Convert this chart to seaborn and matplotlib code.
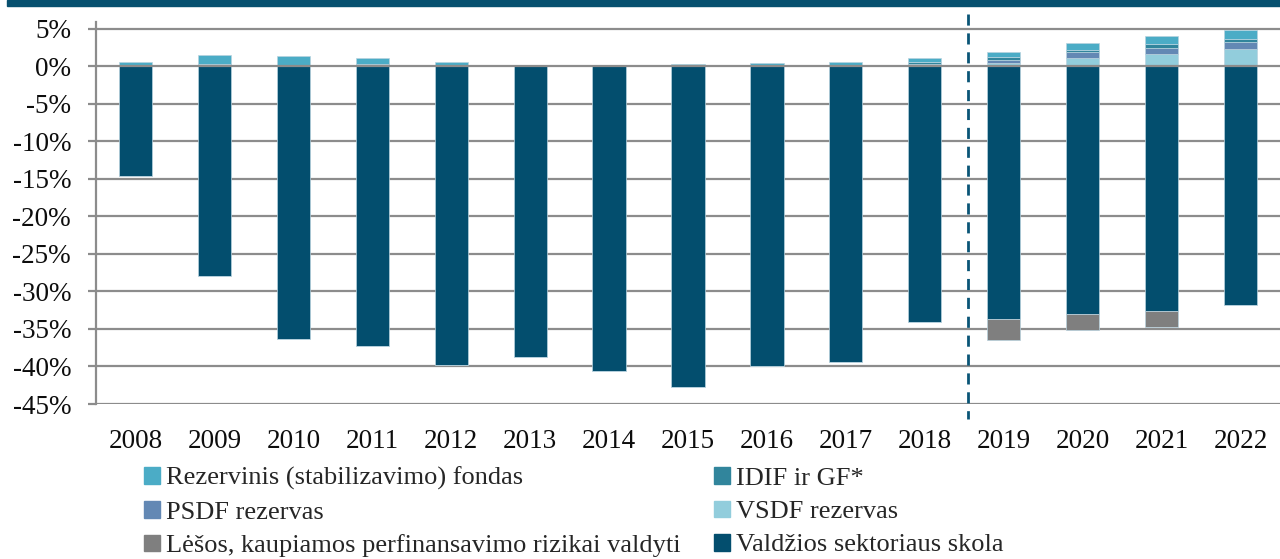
import matplotlib
matplotlib.use("Agg")
import matplotlib.pyplot as plt
import matplotlib.transforms as mtransforms
from matplotlib.patches import Rectangle, Patch
import numpy as np
import pandas as pd
import seaborn as sns

years = ["2008", "2009", "2010", "2011", "2012", "2013", "2014", "2015",
         "2016", "2017", "2018", "2019", "2020", "2021", "2022"]
vsdf = [0.0, 0.0, 0.0, 0.0, 0.0, 0.0, 0.0, 0.0, 0.0, 0.0, 0.1, 0.4, 1.1, 1.7, 2.3]
psdf = [0.0, 0.3, 0.2, 0.3, 0.1, 0.2, 0.2, 0.0, 0.0, 0.0, 0.2, 0.5, 0.8, 0.8, 0.9]
idif = [0.0, 0.0, 0.0, 0.0, 0.0, 0.0, 0.0, 0.0, 0.0, 0.0, 0.3, 0.3, 0.3, 0.5, 0.5]
rez = [0.6, 1.2, 1.25, 0.8, 0.55, 0.0, 0.0, 0.33, 0.45, 0.6, 0.5, 0.7, 0.9, 1.0, 1.2]
skola = [-14.6, -27.9, -36.3, -37.3, -39.8, -38.8, -40.6, -42.8, -39.9, -39.4,
         -34.1, -33.7, -33.0, -32.6, -31.8]
lesos = [0.0, 0.0, 0.0, 0.0, 0.0, 0.0, 0.0, 0.0, 0.0, 0.0, 0.0, -2.8, -2.1, -2.2, 0.0]

labels = ["Rezervinis (stabilizavimo) fondas", "IDIF ir GF*", "PSDF rezervas",
          "VSDF rezervas", "Lėšos, kaupiamos perfinansavimo rizikai valdyti",
          "Valdžios sektoriaus skola"]
colors = {"rez": "#4bacc6", "idif": "#31859c", "psdf": "#6388b4",
          "vsdf": "#92cddc", "lesos": "#7f7f7f", "skola": "#034e6e"}

df = pd.DataFrame({"year": years, "vsdf": vsdf, "psdf": psdf, "idif": idif,
                   "rez": rez, "skola": skola, "lesos": lesos})

sns.set_theme(style="white")
plt.rcParams["font.family"] = ["Liberation Serif", "DejaVu Serif"]

fig = plt.figure(figsize=(12.8, 5.59), dpi=100)
ax = fig.add_axes([96 / 1280, 1 - 404 / 559, 1 - 96 / 1280, (404 - 22) / 559])

edge = "#b9d3df"
bw = 0.42
pos_order = ["vsdf", "psdf", "idif", "rez"]
bottom = np.zeros(len(years))
for key in pos_order:
    sns.barplot(data=df, x="year", y=key, order=years, color=colors[key],
                width=bw, errorbar=None, ax=ax, saturation=1,
                bottom=bottom.copy(), edgecolor=edge, linewidth=0.5, zorder=2)
    bottom = bottom + df[key].to_numpy()
sns.barplot(data=df, x="year", y="skola", order=years, color=colors["skola"],
            width=bw, errorbar=None, ax=ax, saturation=1, edgecolor=edge,
            linewidth=0.5, zorder=2)
sns.barplot(data=df, x="year", y="lesos", order=years, color=colors["lesos"],
            width=bw, errorbar=None, ax=ax, saturation=1,
            bottom=df["skola"].to_numpy(), edgecolor=edge, linewidth=0.5, zorder=2)

ax.set_xlim(-0.5, 14.5)
ax.set_ylim(-45, 5.93)
ticks = list(range(-45, 6, 5))
ax.set_yticks(ticks)
ax.set_yticklabels([f"{t}%" for t in ticks])
ax.set_xlabel("")
ax.set_ylabel("")

grid_c = "#8c8c8c"
for t in ticks:
    ax.axhline(t, color=grid_c, lw=1.6, zorder=1 if t != 0 else 3)

for s in ["top", "right", "bottom"]:
    ax.spines[s].set_visible(False)
ax.spines["left"].set_color(grid_c)
ax.spines["left"].set_linewidth(1.6)
ax.tick_params(axis="y", which="both", left=True, length=6, width=1.6,
               color=grid_c, pad=12, labelsize=19.5, labelcolor="#0d0d0d")
ax.tick_params(axis="x", bottom=False, pad=12, labelsize=19.5, labelcolor="#0d0d0d")

trans = mtransforms.blended_transform_factory(ax.transData, ax.transAxes)
ax.plot([10.55, 10.55], [1.02, -0.04], transform=trans, color="#0a5577",
        lw=2, linestyle=(0, (4, 2.8)), clip_on=False, zorder=4)

fig.patches.append(Rectangle((7 / 1280, 1 - 6 / 559), 1, 6 / 559,
                             transform=fig.transFigure, color="#07506f", zorder=0))

handles_map = {k: Patch(color=c) for k, c in colors.items()}
lab = dict(zip(["rez", "idif", "psdf", "vsdf", "lesos", "skola"], labels))
order = ["rez", "psdf", "lesos", "idif", "vsdf", "skola"]
fig.legend([handles_map[k] for k in order], [lab[k] for k in order], ncol=2,
           loc="upper left", bbox_to_anchor=(144 / 1280, 1 - 467 / 559),
           frameon=False, fontsize=19, handlelength=0.6, handleheight=0.6,
           handletextpad=0.25, columnspacing=1.25, labelspacing=0.4,
           borderaxespad=0, borderpad=0)

fig.savefig("out.png", dpi=100)
